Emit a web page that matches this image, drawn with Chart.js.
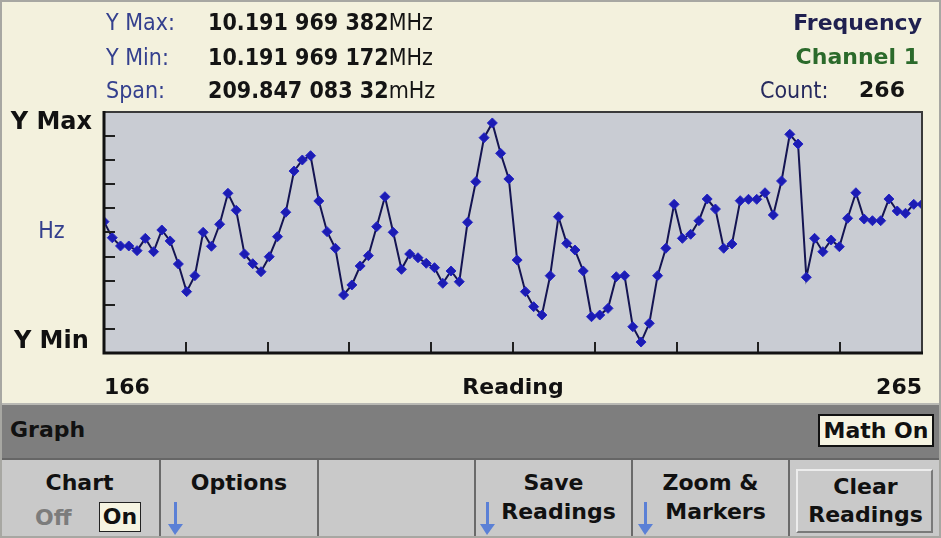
<!DOCTYPE html>
<html>
<head>
<meta charset="utf-8">
<script src="https://cdn.jsdelivr.net/npm/chart.js@4.4.1/dist/chart.umd.min.js"></script>
<style>
  body { margin: 0; background: #fff; }
  #screen { position: relative; width: 941px; height: 538px; background: #f3f1dd; overflow: hidden; }
  #screen .frame { position: absolute; left: 0; top: 0; width: 937px; height: 534px; border: 2px solid #a7a7a2; pointer-events: none; }
  canvas { position: absolute; left: 0; top: 0; }
  .lbl { position: absolute; font: 23px 'Liberation Sans Narrow', 'DejaVu Sans Condensed', sans-serif; color: #34408e; line-height: 30px; white-space: nowrap; }
  .val { position: absolute; font: bold 23px 'DejaVu Sans Condensed', 'DejaVu Sans', sans-serif; color: #141414; line-height: 30px; white-space: nowrap; }
  .val span { font: 23px 'Liberation Sans Narrow', 'DejaVu Sans Condensed', sans-serif; }
  .hb { position: absolute; font: bold 22px 'DejaVu Sans', sans-serif; line-height: 30px; white-space: nowrap; }
  #bar { position: absolute; left: 0; top: 403px; width: 941px; height: 53px; background: #7e7e7e; border-top: 2px solid #b9b9b4; }
  #bar .t { position: absolute; left: 10px; top: 12px; font: bold 22px 'DejaVu Sans', sans-serif; color: #111; }
  #bar .math { position: absolute; left: 818px; top: 9px; width: 116px; height: 33px; background: #f6f4e2; border: 2px solid #111; box-sizing: border-box;
               font: bold 22px 'DejaVu Sans', sans-serif; color: #111; text-align: center; line-height: 29px; }
  #keys { position: absolute; left: 0; top: 458px; width: 941px; height: 80px; background: #c9c9c9; border-top: 2px solid #666; }
  .key { position: absolute; top: 0; height: 80px; border-right: 2px solid #6a6a6a; box-sizing: border-box; font: bold 22px 'DejaVu Sans', sans-serif; color: #111; }
  .key .l { position: absolute; left: 0; right: 0; text-align: center; line-height: 26px; }
  .arr { position: absolute; top: 42px; width: 3px; height: 22px; background: #5b80d6; }
  .arr::after { content: ''; position: absolute; left: -6px; top: 22px; border-left: 7px solid transparent; border-right: 8px solid transparent; border-top: 11px solid #5b80d6; }
</style>
</head>
<body>
<div id="screen">
  <canvas id="graph" width="941" height="400"></canvas>

  <div class="lbl" style="left:106px; top:7px;">Y Max:</div>
  <div class="lbl" style="left:106px; top:42px;">Y Min:</div>
  <div class="lbl" style="left:106px; top:75px;">Span:</div>
  <div class="val" style="left:208px; top:7px;">10.191 969 382<span>MHz</span></div>
  <div class="val" style="left:208px; top:42px;">10.191 969 172<span>MHz</span></div>
  <div class="val" style="left:208px; top:75px;">209.847 083 32<span>mHz</span></div>

  <div class="hb" style="right:19px; top:8px; color:#1f2050;">Frequency</div>
  <div class="hb" style="right:22px; top:42px; color:#2b6a2b;">Channel 1</div>
  <div class="lbl" style="left:760px; top:75px; color:#262a5e;">Count:</div>
  <div class="hb" style="right:36px; top:75px; color:#141414;">266</div>

  <div id="bar">
    <div class="t">Graph</div>
    <div class="math">Math On</div>
  </div>

  <div id="keys">
    <div class="key" style="left:0; width:161px;">
      <div class="l" style="top:10px;">Chart</div>
      <div style="position:absolute; left:35px; top:45px; color:#7c7c7c;">Off</div>
      <div style="position:absolute; left:99px; top:42px; width:42px; height:30px; background:#f6f4e2; border:1px solid #222; box-sizing:border-box; text-align:center; line-height:28px;">On</div>
    </div>
    <div class="key" style="left:161px; width:158px;">
      <div class="l" style="top:10px;">Options</div>
      <div class="arr" style="left:13px;"></div>
    </div>
    <div class="key" style="left:319px; width:157px;"></div>
    <div class="key" style="left:476px; width:157px;">
      <div class="l" style="top:10px;">Save</div>
      <div class="l" style="top:39px; padding-left:10px;">Readings</div>
      <div class="arr" style="left:10px;"></div>
    </div>
    <div class="key" style="left:633px; width:157px;">
      <div class="l" style="top:10px;">Zoom &amp;</div>
      <div class="l" style="top:39px; padding-left:10px;">Markers</div>
      <div class="arr" style="left:11px;"></div>
    </div>
    <div class="key" style="left:790px; width:151px; border-right:none;">
      <div style="position:absolute; left:6px; top:9px; width:137px; height:64px; border:2px solid; border-color:#ececec #7a7a7a #7a7a7a #ececec; box-sizing:border-box;"></div>
      <div class="l" style="top:14px;">Clear</div>
      <div class="l" style="top:42px;">Readings</div>
    </div>
  </div>
  <div class="frame"></div>
</div>

<script>
// Frequency readings, shown as offset (Hz) above 10 191 969 Hz
const firstReading = 166;
const lastReading = 265;
const freqOffsetHz = [
  0.2874, 0.2720, 0.2641, 0.2641, 0.2596, 0.2714, 0.2586, 0.2794, 0.2689, 0.2468,
  0.2203, 0.2356, 0.2772, 0.2638, 0.2849, 0.3146, 0.2983, 0.2564, 0.2471, 0.2394,
  0.2538, 0.2730, 0.2964, 0.3359, 0.3465, 0.3506, 0.3072, 0.2778, 0.2619, 0.2171,
  0.2267, 0.2449, 0.2548, 0.2826, 0.3113, 0.2772, 0.2417, 0.2564, 0.2528, 0.2475,
  0.2433, 0.2283, 0.2401, 0.2298, 0.2868, 0.3257, 0.3679, 0.3820, 0.3529, 0.3283,
  0.2506, 0.2203, 0.2059, 0.1979, 0.2356, 0.2921, 0.2666, 0.2602, 0.2401, 0.1963,
  0.1979, 0.2043, 0.2346, 0.2356, 0.1867, 0.1720, 0.1900, 0.2356, 0.2619, 0.3040,
  0.2714, 0.2753, 0.2883, 0.3091, 0.2995, 0.2619, 0.2660, 0.3075, 0.3088, 0.3088,
  0.3151, 0.2938, 0.3264, 0.3711, 0.3618, 0.2341, 0.2714, 0.2586, 0.2698, 0.2634,
  0.2906, 0.3151, 0.2899, 0.2883, 0.2883, 0.3091, 0.2976, 0.2954, 0.3040, 0.3040
];
const yMaxHz = 0.382;
const yMinHz = 0.172;
const yLabels = ['Y Min', 'Hz', 'Y Max'];
const xLabels = ['166', 'Reading', '265'];

// graph range: 5% margin above and below the span
const margin = (yMaxHz - yMinHz) * 0.05;
const yLow = yMinHz - margin;
const yHigh = yMaxHz + margin;
const divisions = 10;

const points = [];
for (let i = firstReading; i <= lastReading; i++) {
  points.push({ x: i, y: freqOffsetHz[i - firstReading] });
}

const scopeFrame = {
  id: 'scopeFrame',
  beforeDraw(chart) {
    const { ctx, chartArea: a } = chart;
    ctx.save();
    ctx.fillStyle = '#c9ccd3';
    ctx.fillRect(a.left, a.top, a.right - a.left, a.bottom - a.top);
    ctx.restore();
  },
  afterDraw(chart) {
    const { ctx, chartArea: a, scales } = chart;
    ctx.save();
    // inner division ticks
    ctx.strokeStyle = '#202020';
    ctx.lineWidth = 2;
    ctx.beginPath();
    for (let k = 1; k < divisions; k++) {
      const y = Math.round(scales.y.getPixelForValue(yLow + (yHigh - yLow) * k / divisions));
      ctx.moveTo(a.left, y);
      ctx.lineTo(a.left + 11, y);
      const x = Math.round(scales.x.getPixelForValue(firstReading + (lastReading - firstReading) * k / divisions));
      ctx.moveTo(x, a.bottom);
      ctx.lineTo(x, a.bottom - 11);
    }
    ctx.stroke();
    // frame
    ctx.strokeStyle = '#3a3a3a';
    ctx.lineWidth = 2;
    ctx.beginPath();
    ctx.moveTo(a.left, a.top);
    ctx.lineTo(a.right, a.top);
    ctx.lineTo(a.right, a.bottom);
    ctx.stroke();
    ctx.strokeStyle = '#111';
    ctx.lineWidth = 3;
    ctx.beginPath();
    ctx.moveTo(a.left, a.top - 1);
    ctx.lineTo(a.left, a.bottom);
    ctx.lineTo(a.right + 1, a.bottom);
    ctx.stroke();
    ctx.restore();
  }
};

const chart = new Chart(document.getElementById('graph'), {
  type: 'line',
  data: {
    datasets: [{
      data: points,
      borderColor: '#141452',
      borderWidth: 2,
      tension: 0,
      pointStyle: 'rectRot',
      pointRadius: 5,
      pointBackgroundColor: '#1c1cb4',
      pointBorderColor: '#2525c8',
      pointBorderWidth: 1
    }]
  },
  options: {
    responsive: false,
    animation: false,
    devicePixelRatio: 1,
    layout: { padding: { top: 112, right: 19, left: 0, bottom: 0 } },
    plugins: { legend: { display: false }, tooltip: { enabled: false } },
    scales: {
      x: {
        type: 'linear',
        min: firstReading,
        max: lastReading,
        grid: { display: false },
        border: { display: false },
        afterFit: s => { s.height = 47; },
        afterBuildTicks: s => {
          s.ticks = [firstReading, (firstReading + lastReading) / 2, lastReading].map(v => ({ value: v }));
        },
        ticks: {
          autoSkip: false,
          maxRotation: 0,
          align: 'inner',
          padding: 14,
          color: '#111',
          font: { family: 'DejaVu Sans', size: 22, weight: 'bold' },
          callback: (v, i) => xLabels[i]
        }
      },
      y: {
        min: yLow,
        max: yHigh,
        grid: { display: false },
        border: { display: false },
        afterFit: s => { s.width = 104; },
        afterBuildTicks: s => {
          s.ticks = [yMinHz, (yMinHz + yMaxHz) / 2, yMaxHz].map(v => ({ value: v }));
        },
        ticks: {
          autoSkip: false,
          padding: 4,
          crossAlign: 'center',
          color: c => c.index === 1 ? '#34408e' : '#111',
          font: c => c.index === 1
            ? { family: 'Liberation Sans Narrow, DejaVu Sans Condensed', size: 23, weight: 'normal' }
            : { family: 'DejaVu Sans', size: 24, weight: 'bold' },
          callback: (v, i) => yLabels[i]
        }
      }
    }
  },
  plugins: [scopeFrame]
});
</script>
</body>
</html>
